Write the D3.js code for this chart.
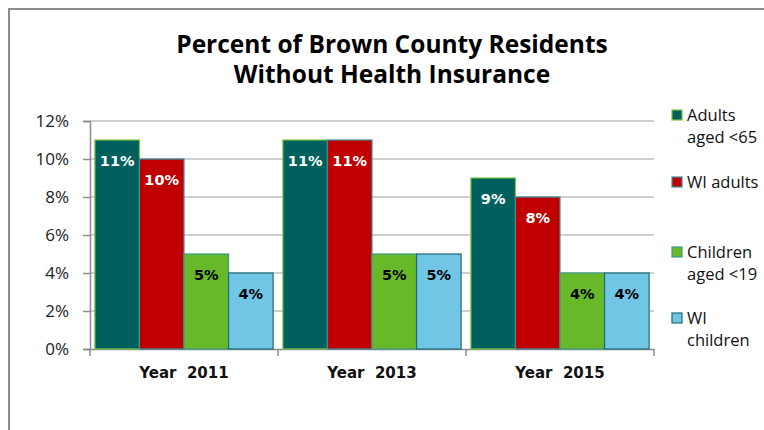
<!DOCTYPE html>
<html>
<head>
<meta charset="utf-8">
<script src="https://cdn.jsdelivr.net/npm/d3@7"></script>
<style>
  html, body { margin: 0; padding: 0; background: #fff; }
  svg { display: block; font-family: "Open Sans", sans-serif; }
</style>
</head>
<body>
<svg id="chart" width="764" height="430"></svg>
<script>
// Survey years and the share of residents without health insurance (percent)
const years = ["Year  2011", "Year  2013", "Year  2015"];
const seriesNames = ["Adults aged <65", "WI adults", "Children aged <19", "WI children"];
const adultsUnder65 = [11, 11, 9];
const wiAdults = [10, 11, 8];
const childrenUnder19 = [5, 5, 4];
const wiChildren = [4, 5, 4];
const yTicks = [0, 2, 4, 6, 8, 10, 12];

const legendLines = [["Adults", "aged <65"], ["WI adults"], ["Children", "aged <19"], ["WI", "children"]];
const fills = ["#00605e", "#c00000", "#67b929", "#71c6e6"];
const strokes = ["#7cc242", "#3d8c9c", "#3f9a8a", "#1e6a78"];
const labelColors = ["#ffffff", "#ffffff", "#000000", "#000000"];

const series = [adultsUnder65, wiAdults, childrenUnder19, wiChildren];

const svg = d3.select("#chart");

// Chart frame
svg.append("rect")
  .attr("x", 9).attr("y", 9).attr("width", 780).attr("height", 440)
  .attr("fill", "#fff").attr("stroke", "#8c8c8c").attr("stroke-width", 2);

// Title
const title = svg.append("text")
  .attr("text-anchor", "middle")
  .attr("font-weight", "bold")
  .attr("font-size", 24.5)
  .attr("fill", "#000");
title.append("tspan").attr("x", 392).attr("y", 53).text("Percent of Brown County Residents");
title.append("tspan").attr("x", 392).attr("y", 83).text("Without Health Insurance");

const plot = { left: 90, right: 654, top: 121, bottom: 349 };

const x0 = d3.scaleBand().domain(years).range([plot.left, plot.right]).paddingInner(0).paddingOuter(0);
const x1 = d3.scaleBand().domain(d3.range(seriesNames.length)).range([0, x0.bandwidth()]).paddingOuter(0.11).paddingInner(0);
const y = d3.scaleLinear().domain([0, 12]).range([plot.bottom, plot.top]);

// Horizontal gridlines
svg.append("g")
  .selectAll("line")
  .data(yTicks.filter(d => d > 0))
  .join("line")
  .attr("x1", plot.left).attr("x2", plot.right)
  .attr("y1", d => y(d)).attr("y2", d => y(d))
  .attr("stroke", "#bfbfbf").attr("stroke-width", 1.5);

// Y axis
const yAxis = svg.append("g")
  .attr("transform", `translate(${plot.left},0)`)
  .call(d3.axisLeft(y).tickValues(yTicks).tickFormat(d => d + "%").tickSize(7).tickPadding(14));
yAxis.select(".domain").attr("stroke", "#8c8c8c").attr("stroke-width", 1.5);
yAxis.selectAll(".tick line").attr("stroke", "#8c8c8c").attr("stroke-width", 1.5);
yAxis.selectAll(".tick text").attr("font-size", 17).attr("fill", "#222").attr("font-family", "'Open Sans', sans-serif");

// X axis
const xAxis = svg.append("g")
  .attr("transform", `translate(0,${plot.bottom})`)
  .call(d3.axisBottom(x0).tickSize(0).tickPadding(18));
xAxis.select(".domain").attr("stroke", "#8c8c8c").attr("stroke-width", 1.5);
xAxis.selectAll(".tick text").attr("font-size", 15).attr("font-weight", "bold").attr("fill", "#111")
  .attr("font-family", "'DejaVu Sans', sans-serif").style("white-space", "pre");
// Category separator ticks
svg.append("g")
  .selectAll("line")
  .data(years.map(d => x0(d)).concat([x0(years[years.length - 1]) + x0.bandwidth()]))
  .join("line")
  .attr("x1", d => d).attr("x2", d => d)
  .attr("y1", plot.bottom).attr("y2", plot.bottom + 7)
  .attr("stroke", "#8c8c8c").attr("stroke-width", 1.5);

// Bars
const groups = svg.append("g")
  .selectAll("g")
  .data(years)
  .join("g")
  .attr("transform", d => `translate(${x0(d)},0)`);

const barData = (yr, i) => series.map((s, k) => ({ k, v: s[i] }));

groups.each(function (yr, i) {
  const g = d3.select(this);
  const data = barData(yr, i);
  g.selectAll("rect")
    .data(data)
    .join("rect")
    .attr("x", d => x1(d.k))
    .attr("y", d => y(d.v))
    .attr("width", x1.bandwidth())
    .attr("height", d => y(0) - y(d.v))
    .attr("fill", d => fills[d.k])
    .attr("stroke", d => strokes[d.k])
    .attr("stroke-width", 1.2);
  g.selectAll("text")
    .data(data)
    .join("text")
    .attr("x", d => x1(d.k) + x1.bandwidth() / 2)
    .attr("y", d => y(d.v) + 26)
    .attr("text-anchor", "middle")
    .attr("font-family", "'DejaVu Sans', sans-serif")
    .attr("font-weight", "bold")
    .attr("font-size", 14.5)
    .attr("fill", d => labelColors[d.k])
    .text(d => d.v + "%");
});

// Legend
const legendY = [121, 188, 258, 324];
const legend = svg.append("g");
legendLines.forEach((lines, k) => {
  legend.append("rect")
    .attr("x", 672).attr("y", legendY[k] - 11)
    .attr("width", 10).attr("height", 10)
    .attr("fill", fills[k]).attr("stroke", strokes[k]).attr("stroke-width", 1.2);
  const t = legend.append("text").attr("font-size", 16.5).attr("fill", "#111");
  lines.forEach((ln, j) => {
    t.append("tspan").attr("x", 687).attr("y", legendY[k] + j * 22).text(ln);
  });
});
</script>
</body>
</html>
